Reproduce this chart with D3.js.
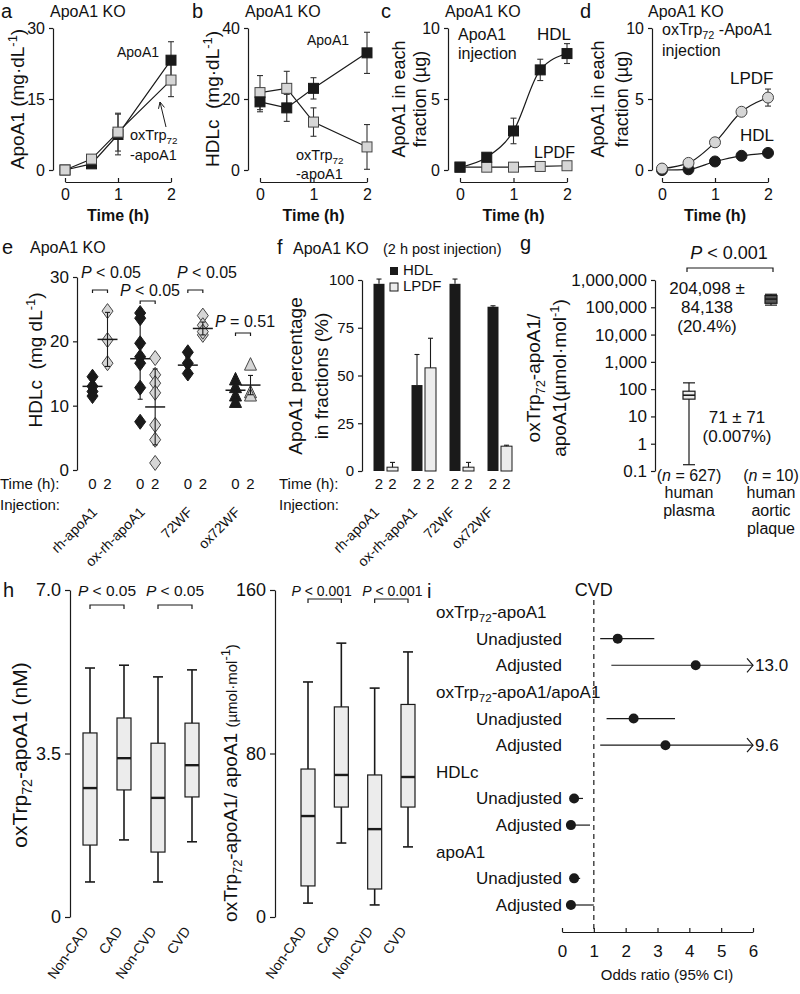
<!DOCTYPE html>
<html><head><meta charset="utf-8">
<script src="https://cdn.jsdelivr.net/npm/d3@7/dist/d3.min.js"></script>
<style>
html,body{margin:0;padding:0;background:#fff}
svg text{font-family:"Liberation Sans",Arial,Helvetica,sans-serif;fill:#111;white-space:pre}
</style></head><body>
<svg id="fig" width="800" height="994" xmlns="http://www.w3.org/2000/svg"></svg>
<script>
// ---------------- data ----------------
const timesAB = [0, 0.5, 1, 2];
const aApoA1 = [0, 1.3, 7.5, 23.2];
const aApoA1Err = [0, 0.4, 4.3, 3.9];
const aOxApoA1 = [0, 2.3, 8.0, 19.0];
const aOxApoA1Err = [0, 0.4, 4.0, 3.5];
const bApoA1 = [19.2, 17.5, 23.0, 33.0];
const bApoA1Err = [2.8, 3.8, 3.0, 5.8];
const bOxApoA1 = [21.8, 23.0, 13.5, 6.5];
const bOxApoA1Err = [4.8, 4.8, 4.0, 6.3];
const timesCD = [0, 0.5, 1, 1.5, 2];
const cHDL = [0.2, 0.9, 2.75, 7.05, 8.2];
const cHDLErr = [0, 0, 0.9, 0.75, 0.7];
const cLPDF = [0.2, 0.2, 0.2, 0.25, 0.3];
const dLPDF = [0.1, 0.5, 1.95, 4.1, 5.1];
const dLPDFErr = [0, 0, 0, 0, 0.6];
const dHDL = [0, 0.05, 0.6, 1.0, 1.2];
const timeTicks = [0, 1, 2];

const injections = ["rh-apoA1", "ox-rh-apoA1", "72WF", "ox72WF"];
const eTime0 = [[11.5, 12.2, 13.0, 14.5], [24.4, 23.6, 19.7, 17.6, 16.6, 12.8, 7.5], [18.3, 16.6, 15.0], [14.0, 12.8, 11.5, 10.5]];
const eTime2 = [[24.7, 20.2, 16.6], [17.4, 14.8, 13.5, 12.0, 7.0, 4.7, 1.1], [24.0, 22.5, 21.0, 21.5], [16.3, 12.0, 11.5]];
const eMean0 = [13.0, 17.3, 16.3, 12.4];
const eSD0 = [1.0, 6.3, 1.2, 1.2];
const eMean2 = [20.3, 9.8, 22.0, 13.2];
const eSD2 = [4.2, 5.9, 1.0, 1.5];
const ePvalues = [" < 0.05", " < 0.05", " < 0.05", " = 0.51"];
const eTicks = [0, 10, 20, 30];

const fHDL = [98, 45, 98, 86];
const fHDLErr = [2.5, 16, 2.5, 0.5];
const fLPDF = [2, 54, 2, 13];
const fLPDFErr = [2.5, 15.5, 2.5, 0.5];
const fTicks = [0, 25, 50, 75, 100];

const gSamples = ["human plasma", "human aortic plaque"];
const gN = [627, 10];
const gLow = [0.17, 120000];
const gQ1 = [43, 140000];
const gMed = [60, 200000];
const gQ3 = [84, 270000];
const gHigh = [170, 300000];
const gTicks = [0.1, 1, 10, 100, 1000, 10000, 100000, 1000000];

const hGroups = ["Non-CAD", "CAD", "Non-CVD", "CVD"];
const hConcLow = [0.75, 1.65, 0.75, 1.61];
const hConcQ1 = [1.54, 2.72, 1.39, 2.57];
const hConcMed = [2.76, 3.40, 2.55, 3.25];
const hConcQ3 = [3.94, 4.26, 3.72, 4.15];
const hConcHigh = [5.33, 5.39, 5.14, 5.29];
const hRatioLow = [6.8, 36.2, 5.9, 34.3];
const hRatioQ1 = [15.2, 53.8, 13.7, 53.8];
const hRatioMed = [49.4, 69.5, 43.0, 68.5];
const hRatioQ3 = [72.4, 102.8, 69.5, 104.0];
const hRatioHigh = [115, 134, 112, 129.7];
const hConcTicks = [0, 3.5, 7.0];
const hRatioTicks = [0, 80, 160];

const orGroups = ["oxTrp72-apoA1", "oxTrp72-apoA1/apoA1", "HDLc", "apoA1"];
const orModels = ["Unadjusted", "Adjusted"];
const orEst = [1.75, 4.2, 2.25, 3.25, 0.38, 0.28, 0.38, 0.28];
const orLow = [1.2, 1.55, 1.4, 1.2, 0.25, 0.28, 0.3, 0.28];
const orHigh = [2.9, 13.0, 3.55, 9.6, 0.66, 0.88, 0.57, 1.0];
const orTicks = [0, 1, 2, 3, 4, 5, 6];

// ---------------- helpers ----------------
const svg = d3.select("#fig");
const INK = "#1a1a1a", GRAYF = "#d6d6d6", LIGHT = "#ececec";

function rich(g, x, y, parts, o = {}) {
  const size = o.size || 15;
  const t = g.append("text").attr("x", x).attr("y", y).attr("font-size", size)
    .attr("text-anchor", o.anchor || "start");
  if (o.weight) t.attr("font-weight", o.weight);
  if (o.rotate) t.attr("transform", `rotate(${o.rotate},${x},${y})`);
  let shift = 0;
  parts.forEach(p => {
    const [s, k, fs] = Array.isArray(p) ? p : [p, "n"];
    const ts = t.append("tspan").text(s);
    const target = k === "sub" ? 0.26 * size : k === "sup" ? -0.38 * size : 0;
    if (target !== shift) { ts.attr("dy", target - shift); shift = target; }
    if (k === "sub" || k === "sup") ts.attr("font-size", size * 0.68);
    if (k === "i") ts.attr("font-style", "italic");
    if (fs) ts.attr("font-size", fs);
  });
  return t;
}
function oxParts(rest) { return ["oxTrp", ["72", "sub"], rest]; }
function styleAxis(sel, size) {
  sel.attr("font-family", null).attr("font-size", size);
  sel.select(".domain").attr("stroke", INK).attr("stroke-width", 1.2);
  sel.selectAll(".tick line").attr("stroke", INK).attr("stroke-width", 1.2);
  sel.selectAll(".tick text").attr("font-size", size);
}
function vline(g, x, y1, y2, w = 1.2, c = INK) {
  g.append("line").attr("x1", x).attr("x2", x).attr("y1", y1).attr("y2", y2).attr("stroke", c).attr("stroke-width", w);
}
function hline(g, x1, x2, y, w = 1.2, c = INK) {
  g.append("line").attr("x1", x1).attr("x2", x2).attr("y1", y).attr("y2", y).attr("stroke", c).attr("stroke-width", w);
}
function errbar(g, x, y1, y2, cap, c = "#333") {
  vline(g, x, y1, y2, 1.1, c);
  hline(g, x - cap / 2, x + cap / 2, y1, 1.1, c);
  hline(g, x - cap / 2, x + cap / 2, y2, 1.1, c);
}
function bracket(g, x1, x2, y, h = 4) {
  g.append("path").attr("d", `M${x1},${y + h}V${y}H${x2}V${y + h}`).attr("fill", "none").attr("stroke", INK).attr("stroke-width", 1.2);
}
function marker(g, shape, x, y, fill) {
  const stroke = fill === INK ? INK : "#444";
  if (shape === "square") g.append("rect").attr("x", x - 5).attr("y", y - 5).attr("width", 10).attr("height", 10).attr("fill", fill).attr("stroke", stroke).attr("stroke-width", 1);
  else if (shape === "circle") g.append("circle").attr("cx", x).attr("cy", y).attr("r", 5.5).attr("fill", fill).attr("stroke", stroke).attr("stroke-width", 1);
  else if (shape === "diamond") g.append("path").attr("d", `M${x},${y - 7.5}L${x + 5.5},${y}L${x},${y + 7.5}L${x - 5.5},${y}Z`).attr("fill", fill).attr("stroke", stroke).attr("stroke-width", 1);
  else g.append("path").attr("d", `M${x},${y - 7.5}L${x + 6},${y + 5}L${x - 6},${y + 5}Z`).attr("fill", fill).attr("stroke", stroke).attr("stroke-width", 1);
}

// ---------------- panels a-d ----------------
function timePanel(c) {
  const g = svg.append("g");
  const x = d3.scaleLinear().domain([0, 2]).range([c.x0, c.x1]);
  const y = d3.scaleLinear().domain(c.yDom).range([170, 28]);
  g.append("g").attr("transform", `translate(${c.ax},0)`)
    .call(d3.axisLeft(y).tickValues(c.yTicks).tickSize(4).tickSizeOuter(0).tickPadding(4)).call(styleAxis, 16);
  g.append("g").attr("transform", "translate(0,182)")
    .call(d3.axisBottom(x).tickValues(timeTicks).tickFormat(d3.format("d")).tickSizeInner(-4).tickSizeOuter(0).tickPadding(7)).call(styleAxis, 16);
  rich(g, (c.x0 + c.x1) / 2, 221, ["Time (h)"], { size: 16, anchor: "middle", weight: "bold" });
  c.series.forEach(s => {
    const pts = c.times.map((t, i) => [x(t), y(s.v[i])]);
    g.append("path").attr("d", d3.line().curve(s.curve || d3.curveLinear)(pts))
      .attr("fill", "none").attr("stroke", INK).attr("stroke-width", 1.2);
  });
  c.series.forEach(s => {
    if (!s.err) return;
    c.times.forEach((t, i) => { const e = s.err[i]; if (e > 0.45) errbar(g, x(t), y(s.v[i] - e), y(s.v[i] + e), 6); });
  });
  c.series.forEach(s => c.times.forEach((t, i) => marker(g, s.shape, x(t), y(s.v[i]), s.fill)));
  rich(g, c.lx, 18, [c.letter], { size: 20 });
  rich(g, c.tx, 17, ["ApoA1 KO"], { size: 16 });
  return { g, x, y };
}

// a
{
  const { g } = timePanel({ x0: 65, x1: 171, ax: 53, yDom: [0, 30], yTicks: [0, 15, 30], times: timesAB, letter: "a", lx: 1, tx: 50,
    series: [{ v: aApoA1, err: aApoA1Err, fill: INK, shape: "square" }, { v: aOxApoA1, err: aOxApoA1Err, fill: GRAYF, shape: "square" }] });
  rich(g, 17 + 7, 99, ["ApoA1 (mg·dL", ["-1", "sup"], ")"], { size: 19, anchor: "middle", rotate: -90 });
  rich(g, 117, 57, ["ApoA1"], { size: 14 });
  rich(g, 130, 140, oxParts(""), { size: 14.5 });
  rich(g, 130, 160, ["-apoA1"], { size: 14.5 });
  const tip = [160, 102], tail = [166, 127];
  g.append("line").attr("x1", tail[0]).attr("y1", tail[1]).attr("x2", tip[0]).attr("y2", tip[1]).attr("stroke", INK).attr("stroke-width", 1);
  const ang = Math.atan2(tip[1] - tail[1], tip[0] - tail[0]);
  const hd = [ang + Math.PI - 0.45, ang + Math.PI + 0.45].map(a => [tip[0] + 7 * Math.cos(a), tip[1] + 7 * Math.sin(a)]);
  g.append("path").attr("d", `M${hd[0]}L${tip}L${hd[1]}`).attr("fill", "none").attr("stroke", INK).attr("stroke-width", 1);
}
// b
{
  const { g } = timePanel({ x0: 260, x1: 367, ax: 248, yDom: [0, 40], yTicks: [0, 20, 40], times: timesAB, letter: "b", lx: 192, tx: 245,
    series: [{ v: bOxApoA1, err: bOxApoA1Err, fill: GRAYF, shape: "square" }, { v: bApoA1, err: bApoA1Err, fill: INK, shape: "square" }] });
  rich(g, 212 + 7, 99, ["HDLc  (mg·dL", ["-1", "sup"], ")"], { size: 19, anchor: "middle", rotate: -90 });
  rich(g, 307, 45, ["ApoA1"], { size: 14 });
  rich(g, 296, 160, oxParts(""), { size: 14.5 });
  rich(g, 296, 179, ["-apoA1"], { size: 14.5 });
}
// c
{
  const { g } = timePanel({ x0: 460, x1: 567, ax: 448, yDom: [0, 10], yTicks: [0, 5, 10], times: timesCD, letter: "c", lx: 381, tx: 445,
    series: [{ v: cLPDF, fill: GRAYF, shape: "square" }, { v: cHDL, err: cHDLErr, fill: INK, shape: "square", curve: d3.curveMonotoneX }] });
  rich(g, 399 + 6, 99, ["ApoA1 in each"], { size: 18, anchor: "middle", rotate: -90 });
  rich(g, 420 + 6, 99, ["fraction (µg)"], { size: 18, anchor: "middle", rotate: -90 });
  rich(g, 458, 40, ["ApoA1"], { size: 16 });
  rich(g, 458, 59, ["injection"], { size: 16 });
  rich(g, 537, 40, ["HDL"], { size: 17 });
  rich(g, 534, 158, ["LPDF"], { size: 16 });
}
// d
{
  const { g } = timePanel({ x0: 662, x1: 768, ax: 652, yDom: [0, 10], yTicks: [0, 5, 10], times: timesCD, letter: "d", lx: 580, tx: 648,
    series: [{ v: dHDL, fill: INK, shape: "circle", curve: d3.curveMonotoneX }, { v: dLPDF, err: dLPDFErr, fill: GRAYF, shape: "circle", curve: d3.curveMonotoneX }] });
  rich(g, 598 + 6, 99, ["ApoA1 in each"], { size: 18, anchor: "middle", rotate: -90 });
  rich(g, 622 + 6, 99, ["fraction (µg)"], { size: 18, anchor: "middle", rotate: -90 });
  rich(g, 662, 35, oxParts(" -ApoA1"), { size: 16 });
  rich(g, 662, 56, ["injection"], { size: 16 });
  rich(g, 730, 84, ["LPDF"], { size: 17 });
  rich(g, 740, 141, ["HDL"], { size: 17 });
}

// ---------------- panel e ----------------
{
  const g = svg.append("g");
  const y = d3.scaleLinear().domain([0, 30]).range([470, 277]);
  const gx = d3.scalePoint().domain(injections).range([100, 243]);
  g.append("g").attr("transform", "translate(77,0)")
    .call(d3.axisLeft(y).tickValues(eTicks).tickSize(4).tickSizeOuter(0).tickPadding(4)).call(styleAxis, 17);
  rich(g, 2, 254, ["e"], { size: 20 });
  rich(g, 30, 253, ["ApoA1 KO"], { size: 16 });
  rich(g, 35 + 7, 360, ["HDLc  (mg dL", ["-1", "sup"], ")"], { size: 19, anchor: "middle", rotate: -90 });
  injections.forEach((inj, i) => {
    const shape = i === 3 ? "triangle" : "diamond";
    const x0 = gx(inj) - 7.5, x2 = gx(inj) + 7.5;
    eTime0[i].forEach(v => marker(g, shape, x0, y(v), INK));
    eTime2[i].forEach(v => marker(g, shape, x2, y(v), GRAYF));
    [[x0, eMean0[i], eSD0[i]], [x2, eMean2[i], eSD2[i]]].forEach(([xx, m, sd]) => {
      hline(g, xx - 10, xx + 10, y(m), 1.5);
      errbar(g, xx, y(m - sd), y(m + sd), 5, INK);
    });
    rich(g, gx(inj) - 7.5, 489, ["0"], { size: 15, anchor: "middle" });
    rich(g, gx(inj) + 7.5, 489, ["2"], { size: 15, anchor: "middle" });
    rich(g, gx(inj) - 2, 513, [inj], { size: 14, anchor: "end", rotate: -45 });
  });
  rich(g, 0, 489, ["Time (h):"], { size: 15 });
  rich(g, 0, 510, ["Injection:"], { size: 15 });
  const pText = [[111, 278, "middle"], [150, 296, "middle"], [207, 278, "middle"], [215, 327, "start"]];
  const bY = [290, 301, 290, 333];
  injections.forEach((inj, i) => {
    rich(g, pText[i][0], pText[i][1], [["P", "i"], ePvalues[i]], { size: 16, anchor: pText[i][2] });
    bracket(g, gx(inj) - 7.5, gx(inj) + 7.5, bY[i], 3);
  });
}

// ---------------- panel f ----------------
{
  const g = svg.append("g");
  const y = d3.scaleLinear().domain([0, 100]).range([471, 280]);
  const gx = d3.scalePoint().domain(injections).range([386, 500]);
  g.append("g").attr("transform", "translate(362,0)")
    .call(d3.axisLeft(y).tickValues(fTicks).tickSize(4).tickSizeOuter(0).tickPadding(4)).call(styleAxis, 15);
  rich(g, 277, 254, ["f"], { size: 20 });
  rich(g, 293, 254, ["ApoA1 KO"], { size: 16 });
  rich(g, 383, 254, ["(2 h post injection)"], { size: 14.5 });
  rich(g, 295 + 7, 376, ["ApoA1 percentage"], { size: 19, anchor: "middle", rotate: -90 });
  rich(g, 321 + 7, 376, ["in fractions (%)"], { size: 19, anchor: "middle", rotate: -90 });
  injections.forEach((inj, i) => {
    const cx = gx(inj);
    g.append("rect").attr("x", cx - 12.5).attr("width", 11).attr("y", y(fHDL[i])).attr("height", y(0) - y(fHDL[i])).attr("fill", INK);
    g.append("rect").attr("x", cx + 1).attr("width", 11).attr("y", y(fLPDF[i])).attr("height", y(0) - y(fLPDF[i])).attr("fill", LIGHT).attr("stroke", INK).attr("stroke-width", 1);
    vline(g, cx - 7, y(fHDL[i]), y(fHDL[i] + fHDLErr[i]), 1.1);
    hline(g, cx - 9.5, cx - 4.5, y(fHDL[i] + fHDLErr[i]), 1.1);
    vline(g, cx + 6.5, y(fLPDF[i]), y(fLPDF[i] + fLPDFErr[i]), 1.1);
    hline(g, cx + 4, cx + 9, y(fLPDF[i] + fLPDFErr[i]), 1.1);
    rich(g, cx - 7, 489, ["2"], { size: 15, anchor: "middle" });
    rich(g, cx + 6.5, 489, ["2"], { size: 15, anchor: "middle" });
    rich(g, cx - 6, 513, [inj], { size: 14, anchor: "end", rotate: -45 });
  });
  rich(g, 279, 489, ["Time (h):"], { size: 15 });
  rich(g, 279, 510, ["Injection:"], { size: 15 });
  g.append("rect").attr("x", 390).attr("y", 267).attr("width", 8).attr("height", 8).attr("fill", INK);
  rich(g, 403, 275, ["HDL"], { size: 15 });
  g.append("rect").attr("x", 390).attr("y", 283).attr("width", 8).attr("height", 8).attr("fill", LIGHT).attr("stroke", INK);
  rich(g, 403, 291, ["LPDF"], { size: 15 });
}

// ---------------- panel g ----------------
{
  const g = svg.append("g");
  const y = d3.scaleLog().domain([0.1, 1e6]).range([471, 280]);
  const gx = d3.scalePoint().domain(gSamples).range([689, 771]);
  const fmt = v => v < 1 ? "0.1" : d3.format(",")(v);
  g.append("g").attr("transform", "translate(655,0)")
    .call(d3.axisLeft(y).tickValues(gTicks).tickFormat(fmt).tickSize(4).tickSizeOuter(0).tickPadding(4)).call(styleAxis, 17);
  rich(g, 520, 250, ["g"], { size: 20 });
  rich(g, 533 + 7, 378, oxParts("-apoA1/"), { size: 19, anchor: "middle", rotate: -90 });
  rich(g, 559 + 7, 378, ["apoA1(µmol·mol", ["-1", "sup"], ")"], { size: 19, anchor: "middle", rotate: -90 });
  gSamples.forEach((s, i) => {
    const cx = gx(s);
    vline(g, cx, y(gLow[i]), y(gHigh[i]), 1.2);
    hline(g, cx - 6, cx + 6, y(gLow[i]), 1.2);
    hline(g, cx - 6, cx + 6, y(gHigh[i]), 1.2);
    g.append("rect").attr("x", cx - 6).attr("width", 12).attr("y", y(gQ3[i])).attr("height", y(gQ1[i]) - y(gQ3[i]))
      .attr("fill", i === 0 ? LIGHT : "#555").attr("stroke", INK).attr("stroke-width", 1.2);
    hline(g, cx - 6, cx + 6, y(gMed[i]), 1.6);
    rich(g, cx, 481, ["(", ["n", "i"], ` = ${gN[i]})`], { size: 16, anchor: "middle" });
  });
  rich(g, gx(gSamples[0]), 498, ["human"], { size: 16, anchor: "middle" });
  rich(g, gx(gSamples[0]), 516, ["plasma"], { size: 16, anchor: "middle" });
  rich(g, gx(gSamples[1]), 498, ["human"], { size: 16, anchor: "middle" });
  rich(g, gx(gSamples[1]), 516, ["aortic"], { size: 16, anchor: "middle" });
  rich(g, gx(gSamples[1]), 534, ["plaque"], { size: 16, anchor: "middle" });
  rich(g, 729, 259, [["P", "i"], " < 0.001"], { size: 18, anchor: "middle" });
  bracket(g, gx(gSamples[0]) - 2, gx(gSamples[1]) + 2, 268, 4);
  rich(g, 707, 294, ["204,098 ±"], { size: 17, anchor: "middle" });
  rich(g, 707, 313, ["84,138"], { size: 17, anchor: "middle" });
  rich(g, 707, 332, ["(20.4%)"], { size: 17, anchor: "middle" });
  rich(g, 737, 423, ["71 ± 71"], { size: 17, anchor: "middle" });
  rich(g, 737, 442, ["(0.007%)"], { size: 17, anchor: "middle" });
}

// ---------------- panel h ----------------
function boxPanel(c) {
  const g = svg.append("g");
  const y = d3.scaleLinear().domain(c.yDom).range([917, 590]);
  const gx = d3.scalePoint().domain(hGroups).range(c.xr);
  g.append("g").attr("transform", `translate(${c.ax},0)`)
    .call(d3.axisLeft(y).tickValues(c.ticks).tickFormat(c.fmt).tickSize(5).tickSizeOuter(0).tickPadding(4)).call(styleAxis, 18);
  hGroups.forEach((grp, i) => {
    const cx = gx(grp);
    vline(g, cx, y(c.low[i]), y(c.q1[i]), 1.6);
    vline(g, cx, y(c.q3[i]), y(c.high[i]), 1.6);
    hline(g, cx - 5, cx + 5, y(c.low[i]), 1.6);
    hline(g, cx - 5, cx + 5, y(c.high[i]), 1.6);
    g.append("rect").attr("x", cx - 7).attr("width", 14).attr("y", y(c.q3[i])).attr("height", y(c.q1[i]) - y(c.q3[i]))
      .attr("fill", LIGHT).attr("stroke", INK).attr("stroke-width", 1.2);
    hline(g, cx - 7, cx + 7, y(c.med[i]), 2.4);
    rich(g, cx - 1, 931, [grp], { size: 14, anchor: "end", rotate: -55 });
  });
  [[0, 1], [2, 3]].forEach(([a, b], j) => {
    rich(g, (gx(hGroups[a]) + gx(hGroups[b])) / 2 + c.pdx[j], 596, [["P", "i"], c.p], { size: c.psize, anchor: "middle" });
    bracket(g, gx(hGroups[a]), gx(hGroups[b]), c.by, 4);
  });
  return g;
}
{
  const g = boxPanel({ yDom: [0, 7], xr: [90, 192], ax: 70, ticks: hConcTicks, fmt: v => v === 0 ? "0" : d3.format(".1f")(v),
    low: hConcLow, q1: hConcQ1, med: hConcMed, q3: hConcQ3, high: hConcHigh, p: " < 0.05", by: 605, psize: 15.5, pdx: [0, 0] });
  rich(g, 3, 597, ["h"], { size: 20 });
  rich(g, 20 + 7, 755, oxParts("-apoA1 (nM)"), { size: 21, anchor: "middle", rotate: -90 });
}
{
  const g = boxPanel({ yDom: [0, 160], xr: [308, 408], ax: 275, ticks: hRatioTicks, fmt: d3.format("d"),
    low: hRatioLow, q1: hRatioQ1, med: hRatioMed, q3: hRatioQ3, high: hRatioHigh, p: " < 0.001", by: 599, psize: 14, pdx: [-3, 1] });
  rich(g, 230 + 7, 783, ["oxTrp", ["72", "sub"], "-apoA1/ apoA1 ", ["(µmol·mol", "n", 15], ["-1", "sup"], [")", "n", 15]], { size: 19, anchor: "middle", rotate: -90 });
}

// ---------------- panel i ----------------
{
  const g = svg.append("g");
  const x = d3.scaleLinear().domain([0, 6]).range([562, 753]);
  const keys = [];
  orGroups.forEach(gr => { keys.push(gr); orModels.forEach(m => keys.push(gr + "|" + m)); });
  const yr = d3.scalePoint().domain(keys).range([612, 905]);
  g.append("g").attr("transform", "translate(0,932)")
    .call(d3.axisBottom(x).tickValues(orTicks).tickFormat(d3.format("d")).tickSizeInner(-4).tickSizeOuter(0).tickPadding(13)).call(styleAxis, 17);
  rich(g, 667, 980, ["Odds ratio (95% CI)"], { size: 15, anchor: "middle" });
  g.append("line").attr("x1", x(1)).attr("x2", x(1)).attr("y1", 600).attr("y2", 932)
    .attr("stroke", INK).attr("stroke-width", 1.2).attr("stroke-dasharray", "5,4");
  rich(g, x(1), 596, ["CVD"], { size: 18, anchor: "middle" });
  rich(g, 427, 598, ["i"], { size: 20 });
  orGroups.forEach((gr, gi) => {
    const parts = gr.startsWith("oxTrp72") ? oxParts(gr.slice(7)) : [gr];
    rich(g, 436, yr(gr) + 6, parts, { size: 17 });
    orModels.forEach((m, mi) => {
      const k = gi * 2 + mi, yy = yr(gr + "|" + m);
      rich(g, 562, yy + 6, [m], { size: 17, anchor: "end" });
      const hi = Math.min(orHigh[k], 6);
      hline(g, x(orLow[k]), x(hi), yy, 1.2);
      if (orHigh[k] > 6) {
        g.append("path").attr("d", `M${x(6) - 6},${yy - 7}L${x(6)},${yy}L${x(6) - 6},${yy + 7}`).attr("fill", "none").attr("stroke", INK).attr("stroke-width", 1.2);
        rich(g, x(6) + 2, yy + 6, [d3.format(".1f")(orHigh[k])], { size: 17 });
      }
      g.append("circle").attr("cx", x(orEst[k])).attr("cy", yy).attr("r", 5).attr("fill", INK);
    });
  });
}
</script></body></html>
